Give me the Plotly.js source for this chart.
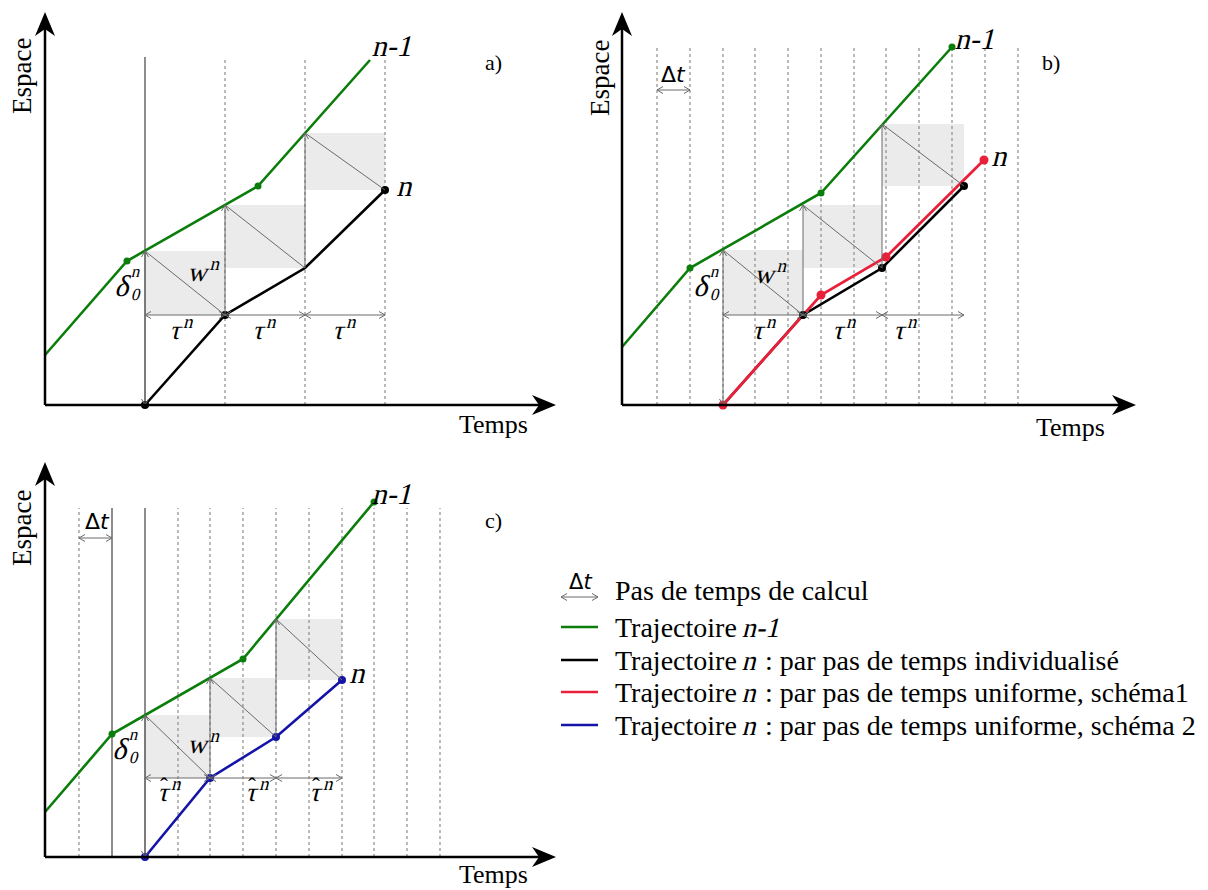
<!DOCTYPE html>
<html><head><meta charset="utf-8">
<script src="https://cdn.plot.ly/plotly-3.0.1.min.js"></script>
<style>html,body{margin:0;padding:0;background:#fff}</style>
</head><body><div id="chart" style="width:1208px;height:890px"></div>
<script>
// ---------- data (time / space units of the schematic) ----------
// panel a
const aGrid = [100, 180, 260, 340];
const aGridSolid = [100];
const aGridTop = 348;
const aPrevT = [0, 82, 213, 325];
const aPrevS = [50, 144, 219, 345];
const aPrevDots = [1, 2];
const aNT = [100, 180, 260, 340];
const aNS = [0, 90, 137, 215];
const aNDots = [0, 1, 3];
const aTop = [154, 200, 272];
// panel b
const bGrid = [35, 68, 101, 133, 166, 199, 232, 264, 297, 330, 363, 396];
const bGridSolid = [];
const bGridTop = 360;
const bPrevT = [0, 68, 199, 330];
const bPrevS = [58, 137, 212, 358];
const bPrevDots = [1, 2, 3];
const bNT = [101, 181, 260, 342];
const bNS = [0, 90, 137, 219];
const bNDots = [1, 2, 3];
const bRedT = [101, 181, 199, 264, 362];
const bRedS = [0, 90, 110, 148, 245];
const bRedDots = [0, 2, 3, 4];
const bTop = [155, 200, 281];
// panel c
const cGrid = [34, 67, 100, 133, 165, 198, 231, 264, 297, 329, 362, 395];
const cGridSolid = [67, 100];
const cGridTop = 349;
const cPrevT = [0, 67, 198, 329];
const cPrevS = [45, 123, 198, 355];
const cPrevDots = [1, 2, 3];
const cNT = [100, 165, 231, 297];
const cNS = [0, 79, 120, 177];
const cNDots = [0, 1, 2, 3];
const cTop = [142, 179, 238];

// legend rows: pieces of text, [text, italic]
const legendRows = [
  [['Pas de temps de calcul', false]],
  [['Trajectoire ', false], ['n-1', true]],
  [['Trajectoire ', false], ['n', true], [' : par pas de temps individualisé', false]],
  [['Trajectoire ', false], ['n', true], [' : par pas de temps uniforme, schéma1', false]],
  [['Trajectoire ', false], ['n', true], [' : par pas de temps uniforme, schéma 2', false]]
];

// ---------- styles ----------
const GREEN = '#0b7d0b', BLACK = '#000000', RED = '#e8203a', BLUE = '#1414a8';
const GRID = '#8c8c8c', THIN = '#6a6a6a', SHADE = '#ebebeb';
const SERIF = 'Liberation Serif';
const SANS = 'DejaVu Sans';

const panels = [
  {xa:'x', ya:'y', grid:aGrid, solid:aGridSolid, gridTop:aGridTop, prevT:aPrevT, prevS:aPrevS, prevDots:aPrevDots,
   nT:aNT, nS:aNS, nDots:aNDots, nColor:BLACK, top:aTop, xEnd:511, yEnd:393, tag:'a)',
   lab:{tag:[448,343], temps:[448,-19], espace:[-23,329], nm1:[349,360], n:[352,220], w:[160,135],
        d:[82,120], tau:[[137,77],[220,77],[300,77]], dt:null}, hat:false},
  {xa:'x2', ya:'y2', grid:bGrid, solid:bGridSolid, gridTop:bGridTop, prevT:bPrevT, prevS:bPrevS, prevDots:bPrevDots,
   nT:bNT, nS:bNS, nDots:bNDots, nColor:BLACK, top:bTop, xEnd:514, yEnd:393, tag:'b)',
   lab:{tag:[429,343], temps:[448,-22], espace:[-22,327], nm1:[355,367], n:[370,250], w:[150,133],
        d:[84,120], tau:[[143,77],[223,77],[284,77]], dt:[51,331], dtY:315}, hat:false},
  {xa:'x3', ya:'y3', grid:cGrid, solid:cGridSolid, gridTop:cGridTop, prevT:cPrevT, prevS:cPrevS, prevDots:cPrevDots,
   nT:cNT, nS:cNS, nDots:cNDots, nColor:BLUE, top:cTop, xEnd:511, yEnd:395, tag:'c)',
   lab:{tag:[448,337], temps:[448,-17], espace:[-23,329], nm1:[349,364], n:[305,185], w:[160,115],
        d:[80,109], tau:[[125,67],[213,67],[277,67]], dt:[52,336], dtY:319}, hat:true}
];

const traces = [];
const shapes = [];
const ann = [];
const italicIdx = [];

function label(xr, yr, x, y, text, size, family, extra, italic) {
  if (italic) italicIdx.push(ann.length);
  ann.push(Object.assign({xref:xr, yref:yr, x:x, y:y, text:text, showarrow:false,
    font:{family:family, size:size, color:'#000'}, xanchor:'center', yanchor:'middle'}, extra || {}));
}
function chevron(xr, yr, tx, ty, dx, dy, color) {
  const L = 6, Hh = 3.5, nx = -dy, ny = dx;
  shapes.push({type:'path', xref:xr, yref:yr,
    path:'M' + (tx - L*dx + Hh*nx) + ',' + (ty - L*dy + Hh*ny) + ' L' + tx + ',' + ty +
         ' L' + (tx - L*dx - Hh*nx) + ',' + (ty - L*dy - Hh*ny),
    line:{color:color || THIN, width:1}});
}
function dimArrow(p, x0, y0, x1, y1, both) {
  shapes.push({type:'line', xref:p.xa, yref:p.ya, x0:x0, y0:y0, x1:x1, y1:y1, line:{color:THIN, width:1}});
  const len = Math.hypot(x1 - x0, y1 - y0), dx = (x1 - x0) / len, dy = (y1 - y0) / len;
  chevron(p.xa, p.ya, x1, y1, dx, dy);
  if (both) chevron(p.xa, p.ya, x0, y0, -dx, -dy);
}
function axisArrow(p, x1, y1) {
  const len = Math.hypot(x1, y1), dx = x1 / len, dy = y1 / len, nx = -dy, ny = dx;
  const L = 24, Hh = 10, N = 17;
  shapes.push({type:'line', xref:p.xa, yref:p.ya, x0:0, y0:0, x1:x1 - N*dx, y1:y1 - N*dy, line:{color:'#000', width:2.5}});
  shapes.push({type:'path', xref:p.xa, yref:p.ya,
    path:'M' + x1 + ',' + y1 + ' L' + (x1 - L*dx + Hh*nx) + ',' + (y1 - L*dy + Hh*ny) +
         ' L' + (x1 - N*dx) + ',' + (y1 - N*dy) + ' L' + (x1 - L*dx - Hh*nx) + ',' + (y1 - L*dy - Hh*ny) + ' Z',
    fillcolor:'#000', line:{width:0}});
}

panels.forEach(p => {
  // shaded wave rectangles
  for (let i = 0; i < p.top.length; i++) {
    shapes.push({type:'rect', xref:p.xa, yref:p.ya, x0:p.nT[i], x1:p.nT[i+1], y0:p.nS[i+1], y1:p.top[i],
      fillcolor:SHADE, line:{width:0}, layer:'below'});
  }
  // time grid
  p.grid.forEach(g => {
    const solid = p.solid.indexOf(g) >= 0;
    shapes.push({type:'line', xref:p.xa, yref:p.ya, x0:g, x1:g, y0:0, y1:p.gridTop,
      line:{color: solid ? '#505050' : GRID, width: solid ? 1.3 : 1.2, dash: solid ? 'solid' : 'dot'}, layer:'below'});
  });
  // diagonals (wave)
  for (let i = 0; i < p.top.length; i++) {
    shapes.push({type:'line', xref:p.xa, yref:p.ya, x0:p.nT[i], y0:p.top[i], x1:p.nT[i+1], y1:p.nS[i+1],
      line:{color:THIN, width:1}});
  }
  // delta0 double arrow and vertical spacing arrows
  dimArrow(p, p.nT[0], p.nS[0], p.nT[0], p.top[0], true);
  for (let i = 1; i < p.top.length; i++) dimArrow(p, p.nT[i], p.nS[i], p.nT[i], p.top[i], false);
  // tau arrows
  for (let i = 0; i < p.top.length; i++) dimArrow(p, p.nT[i], p.nS[1], p.nT[i+1], p.nS[1], true);
  // delta t arrow
  if (p.lab.dt) {
    dimArrow(p, p.grid[0], p.lab.dtY, p.grid[1], p.lab.dtY, true);
    label(p.xa, p.ya, p.lab.dt[0], p.lab.dt[1], 'Δ<i>t</i>', 22, SANS);
  }
  // axes
  axisArrow(p, p.xEnd, 0);
  axisArrow(p, 0, p.yEnd);
  // trajectory n-1
  traces.push({type:'scatter', mode:'lines', xaxis:p.xa, yaxis:p.ya, x:p.prevT, y:p.prevS,
    line:{color:GREEN, width:2.6}, hoverinfo:'skip', showlegend:false});
  traces.push({type:'scatter', mode:'markers', xaxis:p.xa, yaxis:p.ya,
    x:p.prevDots.map(i => p.prevT[i]), y:p.prevDots.map(i => p.prevS[i]),
    marker:{color:GREEN, size:7}, hoverinfo:'skip', showlegend:false});
  // trajectory n
  traces.push({type:'scatter', mode:'lines', xaxis:p.xa, yaxis:p.ya, x:p.nT, y:p.nS,
    line:{color:p.nColor, width:2.6}, hoverinfo:'skip', showlegend:false});
  if (p.xa === 'x2') {
    traces.push({type:'scatter', mode:'lines', xaxis:p.xa, yaxis:p.ya, x:bRedT, y:bRedS,
      line:{color:RED, width:2.8}, hoverinfo:'skip', showlegend:false});
    traces.push({type:'scatter', mode:'markers', xaxis:p.xa, yaxis:p.ya,
      x:bRedDots.map(i => bRedT[i]), y:bRedDots.map(i => bRedS[i]),
      marker:{color:RED, size:9}, hoverinfo:'skip', showlegend:false});
  }
  traces.push({type:'scatter', mode:'markers', xaxis:p.xa, yaxis:p.ya,
    x:p.nDots.map(i => p.nT[i]), y:p.nDots.map(i => p.nS[i]),
    marker:{color:p.nColor, size:8}, hoverinfo:'skip', showlegend:false});

  // texts
  const L = p.lab;
  label(p.xa, p.ya, L.tag[0], L.tag[1], p.tag, 22, SERIF);
  label(p.xa, p.ya, L.temps[0], L.temps[1], 'Temps', 26, SERIF);
  label(p.xa, p.ya, L.espace[0], L.espace[1], 'Espace', 27, SERIF, {textangle:-90});
  label(p.xa, p.ya, L.nm1[0], L.nm1[1], 'n-1', 30, SERIF, null, true);
  label(p.xa, p.ya, L.n[0], L.n[1], 'n', 30, SERIF, {xanchor:'left'}, true);
  label(p.xa, p.ya, L.w[0], L.w[1], 'w<sup>n</sup>', 27, SERIF, null, true);
  label(p.xa, p.ya, L.d[0] - 3, L.d[1], 'δ', 30, SERIF, null, true);
  label(p.xa, p.ya, L.d[0] + 9, L.d[1] + 14, 'n', 17, SERIF, null, true);
  label(p.xa, p.ya, L.d[0] + 9, L.d[1] - 9, '0', 17, SERIF, null, true);
  L.tau.forEach(t => {
    label(p.xa, p.ya, t[0], t[1], 'τ<sup>n</sup>', 27, SERIF, null, true);
    if (p.hat) label(p.xa, p.ya, t[0] - 6, t[1] + 4, 'ˆ', 24, SERIF);
  });
});

// ---------- legend (drawn in page pixels) ----------
const W = 1208, H = 890;
const px = v => v / W, py = v => 1 - v / H;
const legendColors = [null, GREEN, BLACK, RED, BLUE];
const legendY = [590, 627, 660, 692, 725];
const LEG_SIZE = 28;
const ctx = document.createElement('canvas').getContext('2d');
ctx.font = LEG_SIZE + 'px "' + SERIF + '"';
legendRows.forEach((pieces, i) => {
  const y = legendY[i];
  if (legendColors[i]) {
    shapes.push({type:'line', xref:'paper', yref:'paper', x0:px(561), x1:px(598), y0:py(y), y1:py(y),
      line:{color:legendColors[i], width:2.6}});
  } else {
    // delta-t icon
    const yy = 597, x0 = 561, x1 = 598;
    shapes.push({type:'line', xref:'paper', yref:'paper', x0:px(x0), x1:px(x1), y0:py(yy), y1:py(yy), line:{color:THIN, width:1}});
    [[x1, -1], [x0, 1]].forEach(e => {
      shapes.push({type:'path', xref:'paper', yref:'paper',
        path:'M' + px(e[0] + 6*e[1]) + ',' + py(yy - 3.5) + ' L' + px(e[0]) + ',' + py(yy) + ' L' + px(e[0] + 6*e[1]) + ',' + py(yy + 3.5),
        line:{color:THIN, width:1}});
    });
    label('paper', 'paper', px(580), py(582), 'Δ<i>t</i>', 21, SANS);
  }
  let prefix = '';
  pieces.forEach(pc => {
    const lead = pc[0].match(/^\s*/)[0];
    const xpos = 614 + ctx.measureText(prefix + lead).width;
    label('paper', 'paper', px(xpos), py(y), pc[0].trim(), LEG_SIZE, SERIF, {xanchor:'left', borderpad:0}, pc[1]);
    prefix += pc[0];
  });
});

const ax = (dom, rng, anchor) => ({domain:dom, range:rng, visible:false, fixedrange:true, anchor:anchor});
const layout = {
  width:W, height:H, margin:{l:0, r:0, t:0, b:0}, paper_bgcolor:'#fff', plot_bgcolor:'rgba(0,0,0,0)',
  showlegend:false,
  xaxis: ax([0, 560/W], [-45, 515], 'y'),
  yaxis: ax([1 - 440/H, 1], [-35, 405], 'x'),
  xaxis2: ax([580/W, 1], [-42, 586], 'y2'),
  yaxis2: ax([1 - 440/H, 1], [-35, 405], 'x2'),
  xaxis3: ax([0, 560/W], [-45, 515], 'y3'),
  yaxis3: ax([0, 440/H], [-33, 407], 'x3'),
  shapes: shapes, annotations: ann
};
Plotly.newPlot('chart', traces, layout, {displayModeBar:false, staticPlot:true}).then(() => {
  // synthetic italic (oblique) for math symbols
  italicIdx.forEach(i => {
    const t = document.querySelector('#chart .annotation[data-index="' + i + '"] text.annotation-text');
    if (!t) return;
    const b = t.getBBox();
    const cx = b.x + b.width / 2, cy = b.y + b.height / 2;
    const prev = t.getAttribute('transform') || '';
    t.setAttribute('transform', prev + ' translate(' + cx + ',' + cy + ') skewX(-14) translate(' + (-cx) + ',' + (-cy) + ')');
  });
});
</script></body></html>
